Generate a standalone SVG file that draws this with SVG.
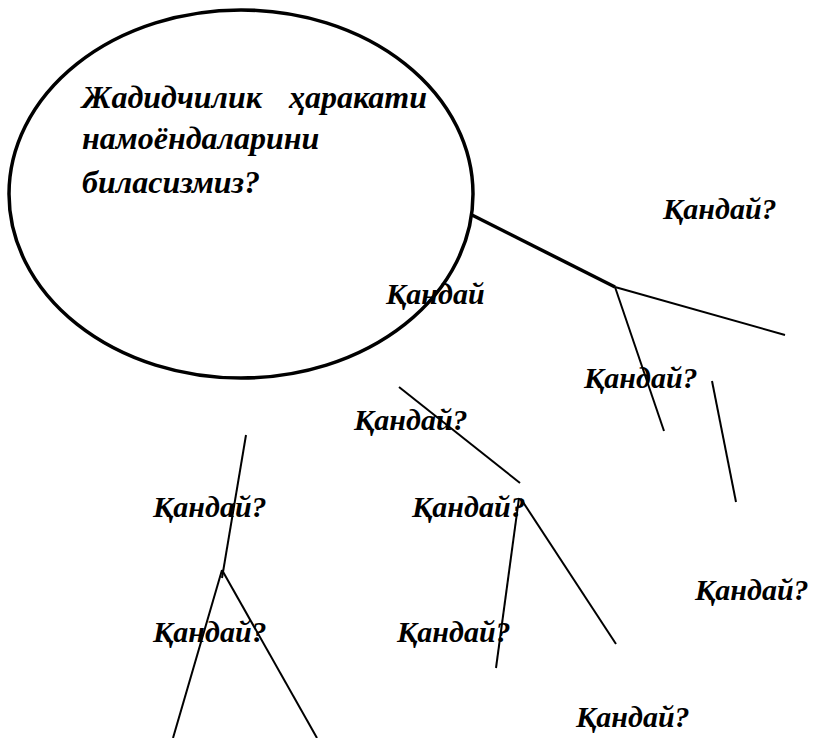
<svg xmlns="http://www.w3.org/2000/svg" width="818" height="738" viewBox="0 0 818 738">
<style>
text{font-family:"Liberation Serif","Times New Roman",serif;font-weight:bold;font-style:italic;font-size:30px;fill:#000}
.m{font-size:32px}
.c{stroke:#000;stroke-width:2;fill:none;stroke-linecap:butt}
.t{stroke-width:3.5}
</style>
<rect width="818" height="738" fill="#fff"/>
<g id="connectors">
<line class="c t" x1="472" y1="215" x2="615" y2="287"/>
<line class="c" x1="615" y1="287" x2="785" y2="335"/>
<line class="c" x1="615" y1="287" x2="664" y2="431"/>
<line class="c" x1="712" y1="381" x2="736" y2="502"/>
<line class="c" x1="399" y1="387" x2="520" y2="483"/>
<line class="c" x1="519" y1="498" x2="496" y2="668"/>
<line class="c" x1="521" y1="499" x2="616" y2="644"/>
<line class="c" x1="246" y1="435" x2="222" y2="578"/>
<line class="c" x1="222" y1="570" x2="173" y2="738"/>
<line class="c" x1="222" y1="570" x2="317" y2="738"/>
</g>
<g id="main">
<ellipse cx="241" cy="194" rx="232" ry="184" fill="none" stroke="#000" stroke-width="3.5"/>
<text class="m" x="82" y="108">Жадидчилик</text>
<text class="m" x="427" y="108" text-anchor="end">ҳаракати</text>
<text class="m" x="82" y="149">намоёндаларини</text>
<text class="m" x="82" y="193">биласизмиз?</text>
</g>
<g id="n1"><text x="663" y="219">Қандай?</text></g>
<g id="n2"><text x="386" y="304">Қандай</text></g>
<g id="n3"><text x="584" y="388">Қандай?</text></g>
<g id="n4"><text x="354" y="430">Қандай?</text></g>
<g id="n5"><text x="153" y="517">Қандай?</text></g>
<g id="n6"><text x="412" y="517">Қандай?</text></g>
<g id="n7"><text x="153" y="642">Қандай?</text></g>
<g id="n8"><text x="397" y="642">Қандай?</text></g>
<g id="n9"><text x="695" y="600">Қандай?</text></g>
<g id="n10"><text x="576" y="727">Қандай?</text></g>
</svg>
